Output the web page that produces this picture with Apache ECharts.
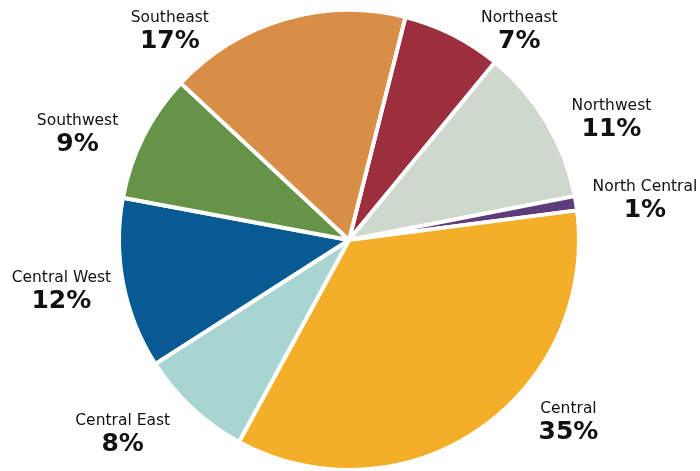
<!DOCTYPE html>
<html><head><meta charset="utf-8">
<script src="https://cdn.jsdelivr.net/npm/echarts@6/dist/echarts.min.js"></script>
<style>html,body{margin:0;padding:0;background:#fff}#c{width:700px;height:471px}</style>
</head><body><div id="c"></div>
<script>
const regions = ['Northeast','Northwest','North Central','Central','Central East','Central West','Southwest','Southeast'];
const shares = [7, 11, 1, 35, 8, 12, 9, 17];
const colors = ['#9B2F3D','#CFD8CC','#5E3B7A','#F5AE28','#A8D5D1','#085A92','#659448','#D98E48'];
// label offsets (px) from the default outside label anchor to the label block centre
const labelNudge = [[58, 3], [53, 1], [56, -2], [80, -14], [-59, 20], [-49, 6], [-54, 1], [-107, 19]];

const chart = echarts.init(document.getElementById('c'));
chart.setOption({
  animation: false,
  series: [{
    type: 'pie',
    center: ['349', '240'],
    radius: [0, 230],
    startAngle: 75.8,
    clockwise: true,
    avoidLabelOverlap: false,
    itemStyle: { borderColor: '#fff', borderWidth: 4 },
    labelLine: { show: false, length: 8, length2: 0 },
    label: {
      show: true,
      position: 'outside',
      formatter: p => '{n|' + p.name + '}\n{v|' + p.value + '%}',
      rich: {
        n: { fontFamily: 'DejaVu Sans', fontSize: 15.5, color: '#111', lineHeight: 20, align: 'center' },
        v: { fontFamily: 'DejaVu Sans', fontWeight: 'bold', fontSize: 25, color: '#111', lineHeight: 27, align: 'center' }
      }
    },
    labelLayout: function (p) {
      const r = p.labelRect;
      const ax = p.align === 'right' ? r.x + r.width : r.x;
      const ay = r.y + r.height / 2;
      const d = labelNudge[p.dataIndex];
      return { x: ax + d[0], y: ay + d[1], align: 'center', verticalAlign: 'middle' };
    },
    data: regions.map((n, i) => ({ name: n, value: shares[i], itemStyle: { color: colors[i] } }))
  }]
});
</script></body></html>
